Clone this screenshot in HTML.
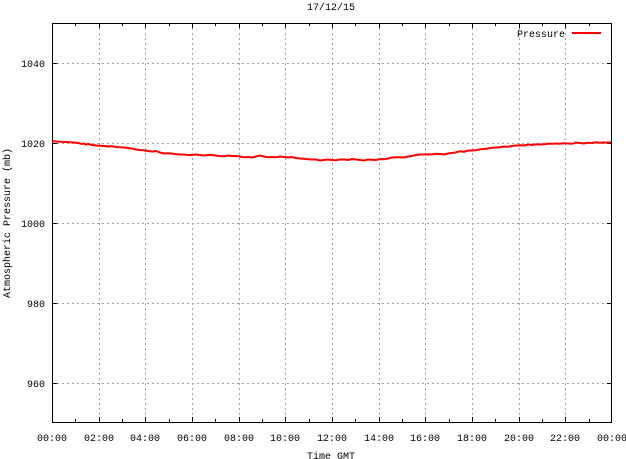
<!DOCTYPE html>
<html>
<head>
<meta charset="utf-8">
<style>
html,body{margin:0;padding:0;background:#fff;}
svg{display:block;}
text{font-family:"Liberation Mono","DejaVu Sans Mono",monospace;font-size:10px;fill:#000;}
</style>
</head>
<body>
<svg width="626" height="459" viewBox="0 0 626 459" xmlns="http://www.w3.org/2000/svg">
<rect x="0" y="0" width="626" height="459" fill="#fff"/>
<!-- grid -->
<g stroke="#a0a0a0" stroke-width="1" stroke-dasharray="2,3" shape-rendering="crispEdges" fill="none">
<line x1="52" y1="63.5" x2="612" y2="63.5"/>
<line x1="52" y1="143.5" x2="612" y2="143.5"/>
<line x1="52" y1="223.5" x2="612" y2="223.5"/>
<line x1="52" y1="303.5" x2="612" y2="303.5"/>
<line x1="52" y1="383.5" x2="612" y2="383.5"/>
<line x1="99.5" y1="23" x2="99.5" y2="423"/>
<line x1="145.5" y1="23" x2="145.5" y2="423"/>
<line x1="192.5" y1="23" x2="192.5" y2="423"/>
<line x1="239.5" y1="23" x2="239.5" y2="423"/>
<line x1="285.5" y1="23" x2="285.5" y2="423"/>
<line x1="332.5" y1="23" x2="332.5" y2="423"/>
<line x1="379.5" y1="23" x2="379.5" y2="423"/>
<line x1="425.5" y1="23" x2="425.5" y2="423"/>
<line x1="472.5" y1="23" x2="472.5" y2="423"/>
<line x1="519.5" y1="23" x2="519.5" y2="423"/>
<line x1="565.5" y1="23" x2="565.5" y2="423"/>
</g>
<!-- ticks -->
<g stroke="#000" stroke-width="1" shape-rendering="crispEdges">
<line x1="52" y1="63.5" x2="57" y2="63.5"/><line x1="607" y1="63.5" x2="612" y2="63.5"/>
<line x1="52" y1="143.5" x2="57" y2="143.5"/><line x1="607" y1="143.5" x2="612" y2="143.5"/>
<line x1="52" y1="223.5" x2="57" y2="223.5"/><line x1="607" y1="223.5" x2="612" y2="223.5"/>
<line x1="52" y1="303.5" x2="57" y2="303.5"/><line x1="607" y1="303.5" x2="612" y2="303.5"/>
<line x1="52" y1="383.5" x2="57" y2="383.5"/><line x1="607" y1="383.5" x2="612" y2="383.5"/>
<line x1="99.5" y1="417" x2="99.5" y2="422"/><line x1="99.5" y1="23" x2="99.5" y2="28"/>
<line x1="145.5" y1="417" x2="145.5" y2="422"/><line x1="145.5" y1="23" x2="145.5" y2="28"/>
<line x1="192.5" y1="417" x2="192.5" y2="422"/><line x1="192.5" y1="23" x2="192.5" y2="28"/>
<line x1="239.5" y1="417" x2="239.5" y2="422"/><line x1="239.5" y1="23" x2="239.5" y2="28"/>
<line x1="285.5" y1="417" x2="285.5" y2="422"/><line x1="285.5" y1="23" x2="285.5" y2="28"/>
<line x1="332.5" y1="417" x2="332.5" y2="422"/><line x1="332.5" y1="23" x2="332.5" y2="28"/>
<line x1="379.5" y1="417" x2="379.5" y2="422"/><line x1="379.5" y1="23" x2="379.5" y2="28"/>
<line x1="425.5" y1="417" x2="425.5" y2="422"/><line x1="425.5" y1="23" x2="425.5" y2="28"/>
<line x1="472.5" y1="417" x2="472.5" y2="422"/><line x1="472.5" y1="23" x2="472.5" y2="28"/>
<line x1="519.5" y1="417" x2="519.5" y2="422"/><line x1="519.5" y1="23" x2="519.5" y2="28"/>
<line x1="565.5" y1="417" x2="565.5" y2="422"/><line x1="565.5" y1="23" x2="565.5" y2="28"/>
<!-- minor x ticks -->
<line x1="75.5" y1="419" x2="75.5" y2="422"/><line x1="75.5" y1="23" x2="75.5" y2="26"/>
<line x1="122.5" y1="419" x2="122.5" y2="422"/><line x1="122.5" y1="23" x2="122.5" y2="26"/>
<line x1="169.5" y1="419" x2="169.5" y2="422"/><line x1="169.5" y1="23" x2="169.5" y2="26"/>
<line x1="215.5" y1="419" x2="215.5" y2="422"/><line x1="215.5" y1="23" x2="215.5" y2="26"/>
<line x1="262.5" y1="419" x2="262.5" y2="422"/><line x1="262.5" y1="23" x2="262.5" y2="26"/>
<line x1="309.5" y1="419" x2="309.5" y2="422"/><line x1="309.5" y1="23" x2="309.5" y2="26"/>
<line x1="355.5" y1="419" x2="355.5" y2="422"/><line x1="355.5" y1="23" x2="355.5" y2="26"/>
<line x1="402.5" y1="419" x2="402.5" y2="422"/><line x1="402.5" y1="23" x2="402.5" y2="26"/>
<line x1="449.5" y1="419" x2="449.5" y2="422"/><line x1="449.5" y1="23" x2="449.5" y2="26"/>
<line x1="495.5" y1="419" x2="495.5" y2="422"/><line x1="495.5" y1="23" x2="495.5" y2="26"/>
<line x1="542.5" y1="419" x2="542.5" y2="422"/><line x1="542.5" y1="23" x2="542.5" y2="26"/>
<line x1="589.5" y1="419" x2="589.5" y2="422"/><line x1="589.5" y1="23" x2="589.5" y2="26"/>
</g>
<!-- border -->
<rect x="52.5" y="23.5" width="559" height="399" fill="none" stroke="#000" stroke-width="1" shape-rendering="crispEdges"/>
<!-- y labels -->
<g text-anchor="end">
<text x="45" y="67">1040</text>
<text x="45" y="147">1020</text>
<text x="45" y="227">1000</text>
<text x="45" y="307">980</text>
<text x="45" y="387">960</text>
</g>
<!-- x labels -->
<g text-anchor="middle">
<text x="52" y="441">00:00</text>
<text x="99" y="441">02:00</text>
<text x="145" y="441">04:00</text>
<text x="192" y="441">06:00</text>
<text x="239" y="441">08:00</text>
<text x="285" y="441">10:00</text>
<text x="332" y="441">12:00</text>
<text x="379" y="441">14:00</text>
<text x="425" y="441">16:00</text>
<text x="472" y="441">18:00</text>
<text x="519" y="441">20:00</text>
<text x="565" y="441">22:00</text>
<text x="612" y="441">00:00</text>
<text x="331" y="459">Time GMT</text>
<text x="331" y="10">17/12/15</text>
</g>
<text transform="translate(10,223) rotate(-90)" text-anchor="middle">Atmospheric Pressure (mb)</text>
<!-- legend -->
<text x="565" y="37" text-anchor="end">Pressure</text>
<line x1="572" y1="33" x2="601" y2="33" stroke="#f00" stroke-width="2"/>
<!-- data -->
<polyline fill="none" stroke="#f00" stroke-width="2" stroke-linejoin="miter" points="
52,141 56,141.5 60,141.8 66,142 70,142.3 74,142.5 78,143 82,144 84,143.5 86,144.7 88,143.8 92,145 96,145.5 100,145.8 104,146 108,146.5 112,146.3 116,147 120,147.2 124,147.5 128,148 132,148.5 136,149.5 140,150 144,150.3 148,151 152,151.5 156,151 160,152.5 164,153.5 168,153.3 172,153.5 176,154.3 180,154.5 184,154.5 188,155 192,155 196,154.5 200,155 204,155.5 208,155 212,155 216,155.6 220,156 224,156.3 228,155.5 232,156 236,156 240,156.5 244,157.3 248,157 252,157.5 256,156.5 260,155.5 264,156.5 268,157.3 272,157 276,157.3 280,156.5 284,157 288,157.5 292,157 296,158 300,158.5 304,158.8 308,159.3 312,159.5 316,159.5 320,160.5 324,160 328,159.5 332,160 336,160.3 340,159.5 344,159.5 348,160 352,159 356,159.5 360,160 364,160.5 368,159.5 372,159.8 376,160 380,159 384,159.3 388,158.5 392,157.5 396,157.3 400,157.3 404,157.5 408,156.5 412,156 416,155 420,154.5 424,154.5 428,154.3 432,154.5 436,153.8 440,154 444,154.5 448,153.5 452,153 456,152.3 460,151.3 464,151.8 468,150.5 472,150.5 476,150.3 480,149.3 484,149 488,148.5 492,147.8 496,147.5 500,147.3 504,146.5 508,146.8 512,146 516,145.5 520,145.2 524,145.5 528,144.5 532,145 536,144.3 540,144.5 544,144.2 548,143.7 552,143.8 556,143.5 560,143.7 564,143.3 568,143.5 572,143.8 576,142.5 580,143 584,143.5 588,142.7 592,143 596,142.3 600,142.7 604,142.5 608,142.5 611,142.4"/>
</svg>
</body>
</html>
